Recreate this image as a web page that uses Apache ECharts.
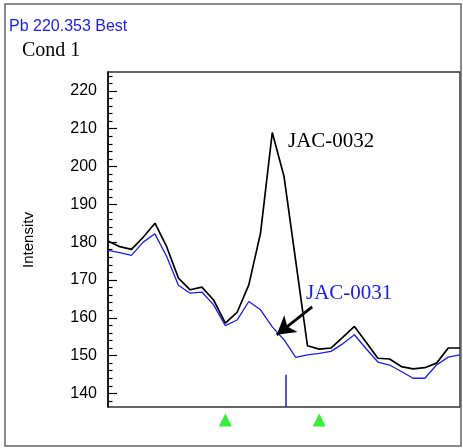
<!DOCTYPE html>
<html>
<head>
<meta charset="utf-8">
<script src="https://cdn.jsdelivr.net/npm/echarts@6/dist/echarts.min.js"></script>
<style>
  html, body { margin: 0; padding: 0; background: #fff; }
  #chart { width: 463px; height: 448px; }
</style>
</head>
<body>
<div id="chart"></div>
<script>
// Scan positions (channel index across the peak window)
const scanIndex = [0,1,2,3,4,5,6,7,8,9,10,11,12,13,14,15,16,17,18,19,20,21,22,23,24,25,26,27,28,29,30];

// Intensity traces
const jac0032 = [180.3,178.8,178.1,181.3,185.0,178.8,170.5,167.4,168.1,164.7,
                 158.6,161.4,168.7,182.4,209.0,197.4,175.0,152.6,151.7,152.0,
                 154.8,157.7,153.5,149.3,149.1,147.1,146.5,146.8,148.0,152.0,152.0];
const jac0031 = [177.8,177.2,176.5,180.0,182.2,176.2,168.6,166.5,166.8,163.4,
                 157.9,159.4,164.3,162.1,157.6,154.2,149.5,150.2,150.6,151.1,
                 153.1,155.5,151.8,148.3,147.5,145.8,144.0,144.0,147.5,149.6,150.2];

// Axis range and tick labels
const yMin = 136.4, yMax = 225;
const yMajorTicks = [140,150,160,170,180,190,200,210,220];
const yMinorTicks = [138,142,144,146,148,152,154,156,158,162,164,166,168,172,174,176,178,
                     182,184,186,188,192,194,196,198,202,204,206,208,212,214,216,218,222,224];

// Peak centre marker and background correction points
const peakCentre = 15.17, peakMarkTop = 144.9;
const bgPoints = [10, 18];

// Arrow pointing at the JAC-0031 trace
const arrowFrom = [17.4, 162.9], arrowTo = [14.38, 155.5];

const pairs = (vals) => scanIndex.map((x, i) => [x, vals[i]]);

const chart = echarts.init(document.getElementById('chart'), null, { renderer: 'canvas' });

const sans = '"Liberation Sans", Arial, sans-serif';
const serif = '"Liberation Serif", "Times New Roman", serif';

chart.setOption({
  animation: false,
  backgroundColor: '#fff',
  grid: [
    { left: 108, top: 72, right: 3, bottom: 41, show: true, borderColor: '#333', borderWidth: 1.5 },
    { left: 108, top: 412, right: 3, height: 16 }
  ],
  xAxis: [
    { type: 'value', gridIndex: 0, min: 0, max: 30,
      axisLine: { show: false }, axisTick: { show: false }, axisLabel: { show: false }, splitLine: { show: false } },
    { type: 'value', gridIndex: 1, min: 0, max: 30, show: false }
  ],
  yAxis: [
    // major ticks with labels
    { type: 'value', gridIndex: 0, min: yMin, max: yMax,
      axisLine: { show: true, lineStyle: { color: '#000', width: 1.5 } },
      axisTick: { show: true, inside: true, length: 9, customValues: yMajorTicks, lineStyle: { color: '#000', width: 1.2 } },
      axisLabel: { show: true, customValues: yMajorTicks, margin: 11, color: '#000', fontSize: 16, fontFamily: sans },
      splitLine: { show: false } },
    // minor ticks only
    { type: 'value', gridIndex: 0, min: yMin, max: yMax, position: 'left',
      axisLine: { show: false },
      axisTick: { show: true, inside: true, length: 4.5, customValues: yMinorTicks, lineStyle: { color: '#000', width: 1.2 } },
      axisLabel: { show: false }, splitLine: { show: false } },
    { type: 'value', gridIndex: 1, min: -1, max: 1, show: false }
  ],
  series: [
    { name: 'JAC-0032', type: 'line', xAxisIndex: 0, yAxisIndex: 0, data: pairs(jac0032),
      symbol: 'none', lineStyle: { color: '#000', width: 1.7 }, z: 3 },
    { name: 'JAC-0031', type: 'line', xAxisIndex: 0, yAxisIndex: 0, data: pairs(jac0031),
      symbol: 'none', lineStyle: { color: '#1a1aff', width: 1.3 }, z: 2,
      markLine: {
        silent: true, animation: false,
        label: { show: false },
        lineStyle: { color: '#000', width: 2.8, type: 'solid' },
        symbolSize: [16, 18],
        data: [[ { coord: arrowFrom, symbol: 'none' }, { coord: arrowTo, symbol: 'arrow' } ]]
      } },
    { name: 'peak', type: 'line', xAxisIndex: 0, yAxisIndex: 0,
      data: [[peakCentre, yMin], [peakCentre, peakMarkTop]],
      symbol: 'none', lineStyle: { color: '#1a1aff', width: 1.5 }, z: 2 },
    { name: 'bg', type: 'scatter', xAxisIndex: 1, yAxisIndex: 2,
      data: bgPoints.map(x => [x, 0]),
      symbol: 'triangle', symbolSize: [13, 13], itemStyle: { color: '#00ee00' } }
  ],
  graphic: [
    { type: 'rect', shape: { x: 5, y: 4, width: 456, height: 442 },
      style: { fill: 'none', stroke: '#666', lineWidth: 1.5 }, z: 0, silent: true },
    { type: 'text', x: 9, y: 27, style: { text: 'Pb 220.353 Best', font: '16px ' + sans, fill: '#1a1aff', verticalAlign: 'middle' } },
    { type: 'text', x: 22, y: 51, style: { text: 'Cond 1', font: '20px ' + serif, fill: '#000', verticalAlign: 'middle' } },
    { type: 'text', x: 29, y: 240, rotation: Math.PI / 2,
      style: { text: 'Intensitv', font: '15px ' + sans, fill: '#000', align: 'center', verticalAlign: 'middle' } },
    { type: 'text', x: 288, y: 141, style: { text: 'JAC-0032', font: '21px ' + serif, fill: '#000', verticalAlign: 'middle' } },
    { type: 'text', x: 306, y: 293, style: { text: 'JAC-0031', font: '21px ' + serif, fill: '#1a1aff', verticalAlign: 'middle' } }
  ]
});
</script>
</body>
</html>
